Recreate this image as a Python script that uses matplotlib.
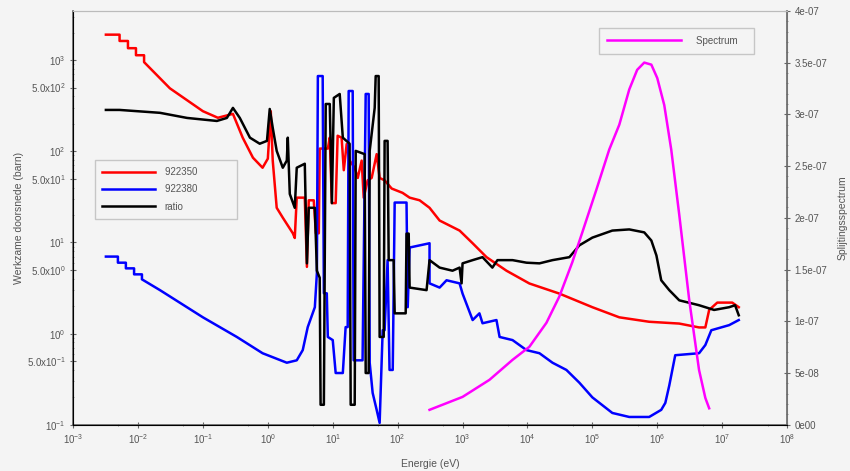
import matplotlib.pyplot as plt
from matplotlib.ticker import FixedLocator, NullFormatter

# U-235 (922350) cross section, barn
e_235 = [3.2e-3, 5.2e-3, 5.2e-3, 7.0e-3, 7.0e-3, 9.3e-3, 9.3e-3, 0.0124, 0.0124, 0.031, 0.1, 0.17,
         0.29, 0.41, 0.59, 0.83, 1.0, 1.11, 1.19,
         1.37, 1.7, 2.43, 2.6, 2.79, 3.71, 4.0, 4.27, 5.1, 5.5, 6.1, 6.3, 8.4, 9.0, 9.7, 11.1, 11.9,
         13.7, 14.8, 16.4, 18.2, 21.8, 24.3, 27.9, 30, 34.5, 39.8, 47.5, 52.8, 63, 81, 119, 153, 218,
         310, 443, 900, 1430, 2340, 4750, 1.07e4, 3.1e4, 1e5, 2.6e5, 7.5e5, 2.18e6, 4.4e6, 5.5e6,
         6.3e6, 8.4e6, 1.43e7, 1.8e7]
s_235 = [1900, 1900, 1620, 1620, 1350, 1350, 1130, 1130, 950, 490, 275, 233,
         257, 141, 85, 66, 83, 275, 79,
         24, 18.7, 12.6, 11.2, 31, 31, 5.4, 29, 29, 12.6, 12.6, 107, 107, 141, 27, 27, 148,
         141, 62, 120, 79, 66, 51, 79, 31, 48, 51, 93, 51, 48, 39, 35, 31, 29,
         24, 17.4, 13.5, 9.8, 6.9, 4.9, 3.55, 2.75, 1.95, 1.51, 1.35, 1.29, 1.17, 1.17,
         1.82, 2.19, 2.19, 1.95]

# U-238 (922380) cross section, barn
e_238 = [3.2e-3, 4.9e-3, 4.9e-3, 6.5e-3, 6.5e-3, 8.7e-3, 8.7e-3, 0.0115, 0.0115, 0.0218, 0.1, 0.333,
         0.83, 1.96, 2.79, 3.45, 4.12, 5.3, 5.7,
         5.9, 7.0, 7.3, 8.1, 8.4, 10, 11.1, 14.3, 15.8, 17.0, 17.6, 20.3, 21, 28.8, 32.2, 35.8, 37.1,
         41.2, 47.5, 52.8, 58.8, 63, 70, 75, 84, 90, 137, 143, 153, 310, 310, 443, 567, 900, 1000,
         1430, 1820, 2030, 3330, 3720, 5890, 9660, 1.53e4, 2.43e4, 3.98e4, 6.3e4, 1e5, 2.03e5,
         3.7e5, 7.5e5, 1.15e6, 1.33e6, 1.53e6, 1.89e6, 4.4e6, 5.5e6, 6.8e6, 1.28e7, 1.8e7]
s_238 = [7.0, 7.0, 6.0, 6.0, 5.2, 5.2, 4.47, 4.47, 3.94, 3.0, 1.51, 0.92,
         0.61, 0.48, 0.51, 0.66, 1.18, 1.95, 4.6,
         668, 668, 2.77, 2.77, 0.92, 0.85, 0.37, 0.37, 1.18, 1.18, 458, 458, 0.51, 0.51, 425, 425, 0.48,
         0.224, 0.146, 0.105, 1.09, 1.09, 6.4, 0.40, 0.40, 27.4, 27.4, 1.95, 8.8, 9.8, 3.56, 3.2, 3.85, 3.56, 2.75,
         1.41, 1.67, 1.30, 1.41, 0.92, 0.85, 0.66, 0.61, 0.48, 0.40, 0.29, 0.20, 0.135,
         0.122, 0.122, 0.146, 0.174, 0.27, 0.58, 0.61, 0.75, 1.09, 1.24, 1.41]

# ratio
e_ratio = [3.2e-3, 5.2e-3, 0.0218, 0.057, 0.164, 0.234, 0.29, 0.37, 0.53, 0.75, 0.97, 1.07, 1.19,
           1.37, 1.7, 1.96, 2.03, 2.18, 2.6, 2.79, 3.71, 4.0, 4.27, 5.3, 5.7, 6.3, 6.5, 7.3, 7.8, 9.0,
           9.7, 10.4, 12.8, 14.3, 18.2, 18.9, 21.8, 22.6, 31, 32.2, 35.8, 37.1, 44.3, 45.9, 51, 52.8,
           61, 63, 70, 72.8, 86.8, 90, 133, 137, 148, 153, 279, 310, 443, 700, 900, 966, 1000, 1430,
           2030, 2880, 3450, 5890, 9660, 1.53e4, 2.43e4, 4.43e4, 6.3e4, 1e5, 2.03e5, 3.7e5, 6.3e5,
           8.1e5, 9.7e5, 1.15e6, 1.53e6, 2.18e6, 4.4e6, 7.5e6, 1.28e7, 1.58e7, 1.8e7]
s_ratio = [284, 284, 264, 232, 215, 232, 299, 232, 141, 121, 130, 291, 181,
           101, 66, 79, 141, 34, 24, 66, 73, 5.9, 24, 24, 4.9, 4.1, 0.166, 0.166, 330, 330,
           27, 385, 425, 141, 121, 0.166, 0.166, 101, 93, 0.37, 0.37, 101, 299, 668, 668, 0.92,
           0.92, 130, 130, 6.4, 6.4, 1.67, 1.67, 12.5, 12.5, 3.2, 3.0, 6.4, 5.3, 4.9, 5.3, 3.56, 5.9, 6.4,
           6.9, 5.3, 6.4, 6.4, 6.0, 5.9, 6.4, 6.9, 9.3, 11.3, 13.5, 13.9, 12.9,
           10.5, 7.2, 3.85, 3.0, 2.32, 2.05, 1.82, 1.95, 2.05, 1.59]

# fission spectrum (right axis)
e_spec = [310, 1000, 2600, 5890, 1.07e4, 1.96e4, 3.1e4, 4.9e4, 7.0e4, 1.15e5, 1.82e5, 2.6e5, 3.7e5,
          4.9e5, 6.3e5, 8.1e5, 1.0e6, 1.28e6, 1.64e6, 2.18e6, 3.1e6, 4.4e6, 5.5e6, 6.3e6]
spec = [1.45e-8, 2.7e-8, 4.35e-8, 6.28e-8, 7.54e-8, 9.86e-8, 1.24e-7, 1.57e-7, 1.86e-7, 2.27e-7,
        2.66e-7, 2.9e-7, 3.24e-7, 3.43e-7, 3.5e-7, 3.48e-7, 3.35e-7, 3.09e-7, 2.66e-7, 2.03e-7,
        1.21e-7, 5.3e-8, 2.6e-8, 1.6e-8]

y_ticks = [0.1, 0.5, 1, 5, 10, 50, 100, 500, 1000]
y_labels = [r'$10^{-1}$', r'$5.0\mathrm{x}10^{-1}$', r'$10^{0}$', r'$5.0\mathrm{x}10^{0}$', r'$10^{1}$',
            r'$5.0\mathrm{x}10^{1}$', r'$10^{2}$', r'$5.0\mathrm{x}10^{2}$', r'$10^{3}$']
x_ticks = [10.0 ** k for k in range(-3, 9)]
x_labels = [r'$10^{%d}$' % k for k in range(-3, 9)]
r_ticks = [0, 5e-8, 1e-7, 1.5e-7, 2e-7, 2.5e-7, 3e-7, 3.5e-7, 4e-7]
r_labels = ['0e00', '5e-08', '1e-07', '1.5e-07', '2e-07', '2.5e-07', '3e-07', '3.5e-07', '4e-07']

plt.rcParams['font.family'] = ['Liberation Sans', 'DejaVu Sans']
plt.rcParams['mathtext.fontset'] = 'custom'
plt.rcParams['mathtext.rm'] = 'Liberation Sans'
bg = '#f4f4f4'
txt = '#555555'

fig = plt.figure(figsize=(8.5, 4.71), dpi=100, facecolor=bg)
ax = fig.add_axes([0.086, 0.098, 0.840, 0.879], facecolor=bg)

ax.plot(e_235, s_235, color='#ff0000', lw=1.8, label='922350            ')
ax.plot(e_238, s_238, color='#0000ff', lw=1.8, label='922380            ')
ax.plot(e_ratio, s_ratio, color='#000000', lw=1.8, label='ratio')

ax.set_xscale('log')
ax.set_yscale('log')
ax.set_xlim(1e-3, 1e8)
ax.set_ylim(0.1, 10 ** 3.54)

ax.xaxis.set_major_locator(FixedLocator(x_ticks))
ax.set_xticklabels(x_labels)
ax.xaxis.set_minor_locator(FixedLocator([5 * 10.0 ** k for k in range(-3, 8)]))
ax.xaxis.set_minor_formatter(NullFormatter())
ax.yaxis.set_major_locator(FixedLocator(y_ticks))
ax.set_yticklabels(y_labels)
ax.yaxis.set_minor_locator(FixedLocator([m * 10.0 ** k for k in range(-1, 4) for m in (2, 3, 4, 6, 7, 8, 9)]))
ax.yaxis.set_minor_formatter(NullFormatter())
ax.tick_params(axis='both', which='major', labelsize=7, colors='#666666', labelcolor=txt, length=4, direction='inout')
ax.tick_params(axis='both', which='minor', colors='#888888', length=2, direction='inout')

for side in ['left', 'bottom']:
    ax.spines[side].set_color('#666666')
    ax.spines[side].set_linewidth(1.2)
for side in ['top', 'right']:
    ax.spines[side].set_color('#bbbbbb')

ax.set_xlabel('Energie (eV)', fontsize=7.5, color=txt, labelpad=9)
ax.set_ylabel('Werkzame doorsnede (barn)', fontsize=7.5, color=txt, labelpad=2)

leg = ax.legend(loc='upper left', bbox_to_anchor=(0.024, 0.652), fontsize=7, frameon=True, fancybox=False,
                handlelength=5.4, handletextpad=1.0, labelspacing=0.75, borderpad=0.75)
leg.get_frame().set_facecolor(bg)
leg.get_frame().set_edgecolor('#bbbbbb')
for t in leg.get_texts():
    t.set_color(txt)

ax2 = ax.twinx()
ax2.plot(e_spec, spec, color='#ff00ff', lw=1.8, label='Spectrum   ')
ax2.set_ylim(0, 4e-7)
ax2.yaxis.set_major_locator(FixedLocator(r_ticks))
ax2.set_yticklabels(r_labels)
ax2.yaxis.set_minor_locator(FixedLocator([k * 1e-8 for k in range(0, 41)]))
ax2.tick_params(axis='y', which='major', labelsize=7, colors='#666666', labelcolor=txt, length=4, direction='inout')
ax2.tick_params(axis='y', which='minor', colors='#888888', length=2, direction='inout')
ax2.spines['right'].set_color('#666666')
ax2.spines['right'].set_linewidth(1.2)
ax2.spines['top'].set_color('#bbbbbb')
ax2.set_ylabel('Splijtingsspectrum', fontsize=7.5, color=txt, labelpad=7)

leg2 = ax2.legend(loc='upper right', bbox_to_anchor=(0.96, 0.97), fontsize=7, frameon=True, fancybox=False,
                  handlelength=7.7, handletextpad=1.5, borderpad=0.8)
leg2.get_frame().set_facecolor(bg)
leg2.get_frame().set_edgecolor('#bbbbbb')
for t in leg2.get_texts():
    t.set_color(txt)

fig.savefig('out.png', dpi=100, facecolor=bg)
